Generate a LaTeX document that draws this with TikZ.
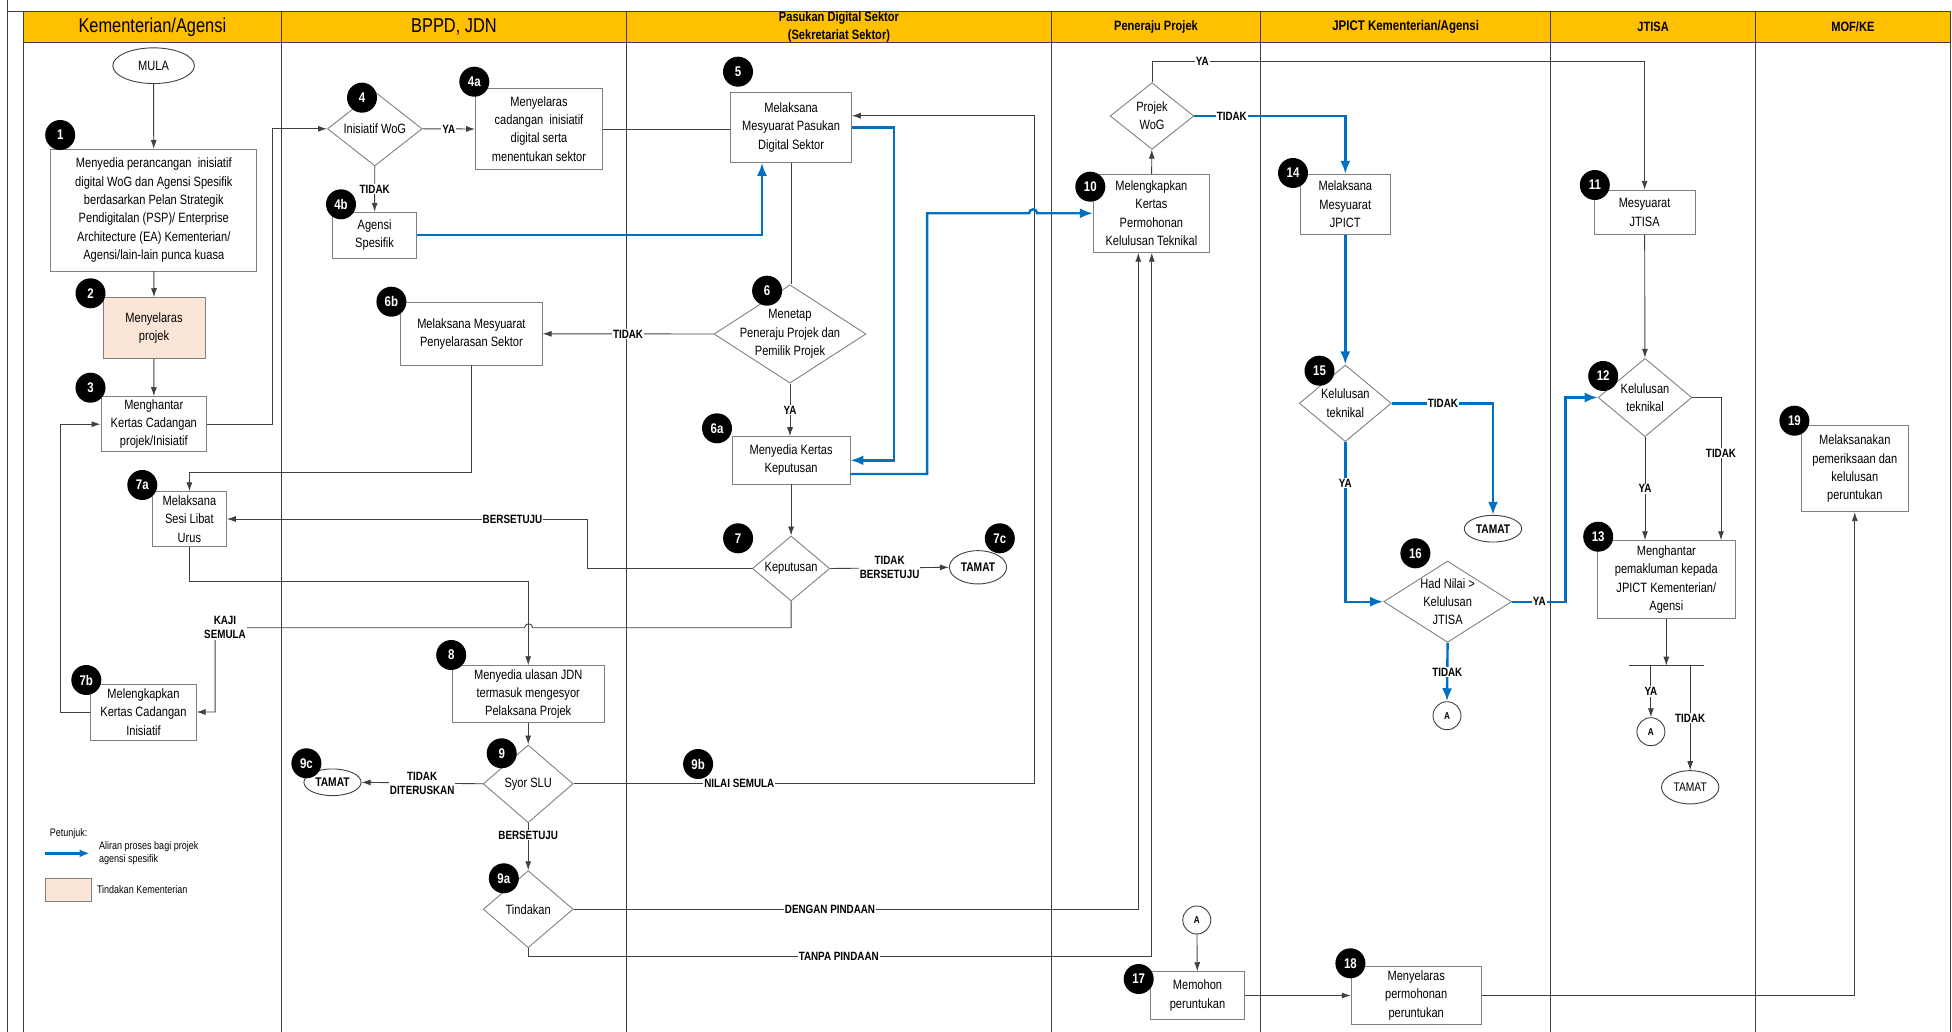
\documentclass[tikz,border=0pt]{standalone}
\usepackage{fontspec}
\setmainfont{Liberation Sans}[FakeStretch=0.82]
\usepackage{tikz}
\usetikzlibrary{arrows.meta,positioning,shapes.geometric,calc}

\definecolor{hdrorange}{HTML}{FFC000}
\definecolor{peach}{HTML}{FBE5D6}
\definecolor{flowblue}{HTML}{0070C0}
\definecolor{linegray}{HTML}{404040}
\definecolor{boxgray}{HTML}{808080}

\newcommand{\flowboxfont}{\fontsize{13.5}{18.3}\selectfont}
\newcommand{\flowlblfont}{\fontsize{12}{14}\selectfont\bfseries}

\begin{document}
\begin{tikzpicture}[
    x=1pt, y=-1pt,
    >={Latex[length=9pt,width=6pt]},
    hdr/.style={rectangle, draw=linegray, line width=1pt, fill=hdrorange, minimum height=31pt, inner sep=0, align=center},
    laneline/.style={draw=linegray, line width=1pt},
    procbox/.style={rectangle, draw=boxgray, line width=0.9pt, fill=white, align=center, inner sep=1pt, font=\flowboxfont},
    decbox/.style={diamond, draw=boxgray, line width=0.9pt, fill=white, inner sep=0},
    dectxt/.style={align=center, font=\flowboxfont, inner sep=0},
    terminal/.style={ellipse, draw=linegray, line width=0.9pt, fill=white, inner sep=0, font=\fontsize{12.5}{14}\selectfont\bfseries},
    conA/.style={circle, draw=linegray, line width=0.9pt, fill=white, minimum size=28pt, inner sep=0, font=\fontsize{10}{12}\selectfont\bfseries},
    numbadge/.style={circle, fill=black, text=white, minimum size=30pt, inner sep=0, font=\fontsize{14}{16}\selectfont\bfseries},
    flow/.style={draw=linegray, line width=0.9pt, ->},
    link/.style={draw=linegray, line width=0.9pt},
    blueflow/.style={draw=flowblue, line width=2.4pt, -{Latex[length=13pt,width=10pt]}},
    lbl/.style={fill=white, inner sep=1pt, align=center, font=\flowlblfont},
]
\useasboundingbox (0,0) rectangle (1952,1032);

% swimlanes
\draw[laneline] (7.6,0) -- (7.6,1032);
\draw[laneline] (7.6,11.7) -- (1950.6,11.7);
\foreach \lx in {23.1,281.6,626.3,1051.6,1260.4,1550.9,1755.2,1950.6}
    \draw[laneline] (\lx,42.7) -- (\lx,1032);
\node[hdr, minimum width=258.5pt, font=\fontsize{20}{22}\selectfont] (h1) at (152.35,27.2) {Kementerian/Agensi};
\node[hdr, minimum width=344.7pt, font=\fontsize{20}{22}\selectfont] (h2) at (453.95,27.2) {BPPD, JDN};
\node[hdr, minimum width=425.3pt, font=\fontsize{13.5}{18.4}\selectfont\bfseries] (h3) at (838.95,27.2) {Pasukan Digital Sektor\\(Sekretariat Sektor)};
\node[hdr, minimum width=208.8pt, font=\fontsize{13.5}{16}\selectfont\bfseries] (h4) at (1156,27.2) {Peneraju Projek};
\node[hdr, minimum width=290.5pt, font=\fontsize{14}{16}\selectfont\bfseries] (h5) at (1405.65,27.2) {JPICT Kementerian/Agensi};
\node[hdr, minimum width=204.3pt, font=\fontsize{13.5}{16}\selectfont\bfseries] (h6) at (1653.05,27.2) {JTISA};
\node[hdr, minimum width=195.4pt, font=\fontsize{13.5}{16}\selectfont\bfseries] (h7) at (1852.9,27.2) {MOF/KE};

% steps
\node[terminal, font=\flowboxfont, minimum width=81.6pt, minimum height=35.7pt] (mula) at (153.6,65.7) {MULA};
\node[procbox, minimum width=205.8pt, minimum height=121.7pt] (b1) at (153.8,210.2) {Menyedia perancangan\ \ inisiatif\\digital WoG dan Agensi Spesifik\\berdasarkan Pelan Strategik\\Pendigitalan (PSP)/ Enterprise\\Architecture (EA) Kementerian/\\Agensi/lain-lain punca kuasa};
\node[procbox, fill=peach, minimum width=102pt, minimum height=60.6pt] (b2) at (154,328) {Menyelaras\\projek};
\node[procbox, minimum width=105.6pt, minimum height=55pt] (b3) at (153.8,424.2) {Menghantar\\Kertas Cadangan\\projek/Inisiatif};
\node[decbox, minimum width=94.7pt, minimum height=74.3pt, label={[dectxt]center:Inisiatif WoG}] (d4) at (374.8,128.8) {};
\node[procbox, minimum width=127pt, minimum height=81.7pt] (b4a) at (539,129) {Menyelaras\\cadangan\ \ inisiatif\\digital serta\\menentukan sektor};
\node[procbox, minimum width=84.2pt, minimum height=46pt] (b4b) at (374.6,235.3) {Agensi\\Spesifik};
\node[procbox, minimum width=120.4pt, minimum height=69.7pt] (b5) at (791.1,127.5) {Melaksana\\Mesyuarat Pasukan\\Digital Sektor};
\node[decbox, minimum width=152pt, minimum height=98.3pt, label={[dectxt]center:{Menetap\\Peneraju Projek dan\\Pemilik Projek}}] (d6) at (790,334) {};
\node[procbox, minimum width=141.4pt, minimum height=62.3pt] (b6b) at (471.4,333.8) {Melaksana Mesyuarat\\Penyelarasan Sektor};
\node[procbox, minimum width=117.8pt, minimum height=47.3pt] (b6a) at (791.1,460.3) {Menyedia Kertas\\Keputusan};
\node[decbox, minimum width=77.4pt, minimum height=65pt, label={[dectxt]center:Keputusan}] (d7) at (791.1,568.5) {};
\node[terminal, minimum width=57.2pt, minimum height=33.3pt] (t7c) at (978,567.3) {TAMAT};
\node[procbox, minimum width=74pt, minimum height=54.6pt] (b7a) at (189.4,519) {Melaksana\\Sesi Libat\\Urus};
\node[procbox, minimum width=105.2pt, minimum height=56pt] (b7b) at (143.5,712) {Melengkapkan\\Kertas Cadangan\\Inisiatif};
\node[procbox, minimum width=151.6pt, minimum height=57pt] (b8) at (528.2,694.2) {Menyedia ulasan JDN\\termasuk mengesyor\\Pelaksana Projek};
\node[decbox, minimum width=90pt, minimum height=77.7pt, label={[dectxt]center:Syor SLU}] (d9) at (528.2,783.8) {};
\node[terminal, minimum width=57.2pt, minimum height=26.7pt] (t9c) at (332.5,782.3) {TAMAT};
\node[decbox, minimum width=90pt, minimum height=77pt, label={[dectxt]center:Tindakan}] (d9a) at (528.2,909.2) {};
\node[decbox, minimum width=83.8pt, minimum height=66.6pt, label={[dectxt]center:{Projek\\WoG}}] (dwog) at (1152,116) {};
\node[procbox, minimum width=116.1pt, minimum height=78pt] (b10) at (1151.4,213.3) {Melengkapkan\\Kertas\\Permohonan\\Kelulusan Teknikal};
\node[procbox, minimum width=90.4pt, minimum height=60pt] (b14) at (1345.3,204.3) {Melaksana\\Mesyuarat\\JPICT};
\node[decbox, minimum width=92pt, minimum height=76.7pt, label={[dectxt]center:{Kelulusan\\teknikal}}] (d15) at (1345.3,403.3) {};
\node[terminal, minimum width=57.4pt, minimum height=26.7pt] (t15) at (1493,528.7) {TAMAT};
\node[decbox, minimum width=127.9pt, minimum height=81.3pt, label={[dectxt]center:{Had Nilai >\\Kelulusan\\JTISA}}] (d16) at (1447.6,601.7) {};
\node[conA] (cA1) at (1447,715.7) {A};
\node[procbox, minimum width=101.3pt, minimum height=44.4pt] (b11) at (1644.6,212.5) {Mesyuarat\\JTISA};
\node[decbox, minimum width=93.7pt, minimum height=78.4pt, label={[dectxt]center:{Kelulusan\\teknikal}}] (d12) at (1645,397.5) {};
\node[procbox, minimum width=138pt, minimum height=77.6pt] (b13) at (1666.3,579.5) {Menghantar\\pemakluman kepada\\JPICT Kementerian/\\Agensi};
\coordinate (barL) at (1629,665.7);
\coordinate (barR) at (1703.7,665.7);
\node[conA] (cA2) at (1650.9,731.7) {A};
\node[terminal, font=\fontsize{12.5}{14}\selectfont, minimum width=57.4pt, minimum height=33.3pt] (t13) at (1690.2,787.3) {TAMAT};
\node[procbox, minimum width=107.2pt, minimum height=86pt] (b19) at (1854.8,468.7) {Melaksanakan\\pemeriksaan dan\\kelulusan\\peruntukan};
\node[conA] (cA3) at (1196.8,920) {A};
\node[procbox, minimum width=94.7pt, minimum height=47.6pt] (b17) at (1197.5,995.5) {Memohon\\peruntukan};
\node[procbox, minimum width=130pt, minimum height=57.3pt] (b18) at (1416.2,995.3) {Menyelaras\\permohonan\\peruntukan};

% connectors
\draw[flow] (mula) -- (b1);
\draw[flow] (b1) -- (b2);
\draw[flow] (b2) -- (b3);
\draw[flow] (b3.east) -- ++(65,0) |- (d4.west);
\draw[flow] (d4.east) -- node[lbl]{YA} (b4a.west);
\draw[flow] (d4.south) -- node[lbl]{TIDAK} (b4b.north);
\draw[link] (b4a.east) -- (b4a.east -| b5.west);
\draw[blueflow] (b4b.east) -| ([xshift=-29.1pt]b5.south);
\draw[link] (b5.south) -- (b5.south |- d6.north);
\draw[blueflow] (b5.east) -- ++(42.5,0) |- (b6a.east);
\draw[flow] (d6.west) -- node[lbl]{TIDAK} (b6b.east);
\draw[flow] (d6.south) -- node[lbl]{YA} (d6.south |- b6a.north);
\draw[flow] (b6a) -- (d7);
\draw[flow] (d7.east) -- node[lbl]{TIDAK\\BERSETUJU} (t7c.west);
\draw[flow] (d7.west) -- ++(-164.4,0) |- node[lbl, pos=0.604]{BERSETUJU} (b7a.east);
\draw[flow] (b6b.south) -- ++(0,107.3) -| (b7a.north);
\draw[flow] (b7a.south) -- ++(0,34.4) -| (b8.north);
\draw[flow] (d7.south) -- ++(0,26.3) -- ++(-258.5,0) arc[start angle=0, end angle=180, radius=4pt]
    -| node[lbl, pos=0.484]{KAJI\\SEMULA} ([xshift=18.5pt]b7b.east) -- (b7b.east);
\draw[flow] (b7b.west) -- ++(-29.9,0) |- (b3.west);
\draw[flow] (b8) -- (d9);
\draw[flow] (d9.west) -- node[lbl]{TIDAK\\DITERUSKAN} (t9c.east);
\draw[flow] (d9.south) -- node[lbl, pos=0.25]{BERSETUJU} (d9a.north);
\draw[flow] (d9.east) -- node[lbl, pos=0.36]{NILAI SEMULA} ++(460.3,0) |- ([yshift=11.8pt]b5.east);
\draw[flow] (d9a.east) -| node[lbl, pos=0.227]{DENGAN PINDAAN} ([xshift=-13.1pt]b10.south);
\draw[flow] (d9a.south) -- ++(0,8.3) -| node[lbl, pos=0.249]{TANPA PINDAAN} ([xshift=0.4pt]b10.south);
\draw[blueflow] ([yshift=-13.7pt]b6a.east) -- ++(76.6,0) |- ([xshift=-63.8pt]b10.west)
    arc[start angle=180, end angle=0, radius=4pt] -- (b10.west);
\draw[flow] (b10) -- (dwog);
\draw[flow] (dwog.north) -- ++(0,-20.4) -| node[lbl, pos=0.051]{YA} (b11.north);
\draw[blueflow] (dwog.east) -| node[lbl, pos=0.124]{TIDAK} (b14.north);
\draw[blueflow] (b14) -- (d15);
\draw[blueflow] (d15.east) -| node[lbl, pos=0.253]{TIDAK} (t15.north);
\draw[blueflow] (d15.south) |- node[lbl, pos=0.128]{YA} (d16.west);
\draw[blueflow] (d16.east) -- node[lbl, pos=0.51]{YA} ++(53.6,0) |- (d12.west);
\draw[blueflow] (d16.south) -- node[lbl]{TIDAK} (cA1.north);
\draw[flow] (b11) -- (d12);
\draw[flow] (d12.south) -- node[lbl]{YA} (d12.south |- b13.north);
\draw[flow] (d12.east) -| node[lbl, pos=0.695]{TIDAK} ([xshift=54.7pt]b13.north);
\draw[link] (barL) -- (barR);
\draw[flow] (b13.south) -- (b13.south |- barL);
\draw[flow] (barL -| cA2) -- node[lbl]{YA} (cA2.north);
\draw[flow] (barL -| t13) -- node[lbl]{TIDAK} (t13.north);
\draw[flow] (cA3) -- (b17);
\draw[flow] (b17.east) -- (b17.east -| b18.west);
\draw[flow] (b18.east) -| (b19.south);

% step numbers
\foreach \bn/\bx/\by in {1/60.2/135, 2/90.5/293.3, 3/90.5/387.7, 4/362/97.7, 4a/474.3/81.7, 4b/341/204.3,
    5/738/71.7, 6/767.1/290.7, 6a/717/428.3, 6b/391.4/301.7, 7/738.1/538.3, 7a/142.3/485, 7b/86.3/680,
    7c/999.8/538.3, 8/451.2/655, 9/501.7/753.3, 9a/503.8/878.3, 9b/698.1/764, 9c/306.4/763.3,
    10/1090.3/186.7, 11/1594.8/185, 12/1603.2/376, 13/1598.2/536.7, 14/1293/173, 15/1319.5/370.7,
    16/1415.4/553.3, 17/1138.7/979, 18/1350.4/963.3, 19/1794.4/420.7}
    \node[numbadge] (n\bn) at (\bx,\by) {\bn};

% legend
\node[anchor=west, inner sep=0, font=\fontsize{11}{13.5}\selectfont] (pet) at (49.7,833.3) {Petunjuk:};
\coordinate (lgA) at (45,853.3);
\coordinate (lgB) at (89.6,853.3);
\draw[blueflow, -{Latex[length=10pt,width=8pt]}] (lgA) -- (lgB);
\node[anchor=west, inner sep=0, align=left, font=\fontsize{11}{13.5}\selectfont] (lgtxt) at (98.9,853.3) {Aliran proses bagi projek\\agensi spesifik};
\node[rectangle, draw=boxgray, line width=0.9pt, fill=peach, minimum width=45.9pt, minimum height=22.7pt, inner sep=0] (lgbox) at (68,889.7) {};
\node[anchor=west, inner sep=0, font=\fontsize{11}{13.5}\selectfont] (lgtxt2) at (96.8,889.3) {Tindakan Kementerian};

\end{tikzpicture}
\end{document}
